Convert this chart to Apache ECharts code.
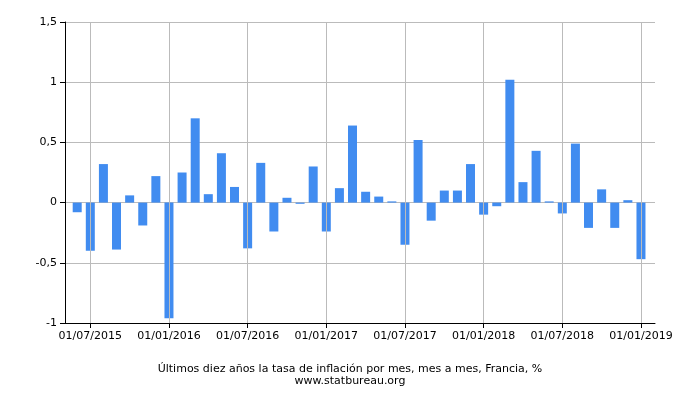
<!DOCTYPE html>
<html><head><meta charset="utf-8">
<script src="https://cdn.jsdelivr.net/npm/echarts@6/dist/echarts.min.js"></script>
<style>body{margin:0}#c{width:700px;height:400px}</style></head>
<body><div id="c"></div>
<script>
const months = ["06/2015","07/2015","08/2015","09/2015","10/2015","11/2015","12/2015","01/2016","02/2016","03/2016","04/2016","05/2016","06/2016","07/2016","08/2016","09/2016","10/2016","11/2016","12/2016","01/2017","02/2017","03/2017","04/2017","05/2017","06/2017","07/2017","08/2017","09/2017","10/2017","11/2017","12/2017","01/2018","02/2018","03/2018","04/2018","05/2018","06/2018","07/2018","08/2018","09/2018","10/2018","11/2018","12/2018","01/2019"];
const values = [-0.08,-0.4,0.32,-0.39,0.06,-0.19,0.22,-0.96,0.25,0.7,0.07,0.41,0.13,-0.38,0.33,-0.24,0.04,-0.01,0.3,-0.24,0.12,0.64,0.09,0.05,0.01,-0.35,0.52,-0.15,0.1,0.1,0.32,-0.1,-0.03,1.02,0.17,0.43,0.01,-0.09,0.49,-0.21,0.11,-0.21,0.02,-0.47];
const tickIdx = [1,7,13,19,25,31,37,43];
const tickLabels = ["01/07/2015","01/01/2016","01/07/2016","01/01/2017","01/07/2017","01/01/2018","01/07/2018","01/01/2019"];
const chart = echarts.init(document.getElementById('c'));
const font = 'DejaVu Sans';
chart.setOption({
  animation:false,
  textStyle:{fontFamily:font},
  grid:{left:65,right:45,top:22,bottom:77},
  xAxis:{type:'value',min:-0.93,max:44.07,
    axisLine:{show:true,onZero:false,lineStyle:{color:'#000'}},
    axisTick:{show:true,customValues:tickIdx,lineStyle:{color:'#000'}},
    axisLabel:{customValues:tickIdx,color:'#000',fontSize:11,fontFamily:font,
      formatter:v=>tickLabels[tickIdx.indexOf(Math.round(v))]||''},
    splitLine:{show:false}},
  yAxis:{type:'value',min:-1,max:1.5,interval:0.5,
    axisLine:{show:true,onZero:false,lineStyle:{color:'#000'}},
    axisTick:{show:true,lineStyle:{color:'#000'}},
    axisLabel:{color:'#000',fontSize:11,fontFamily:font,formatter:v=>String(v).replace('.',',')},
    splitLine:{lineStyle:{color:'#bbb'}}},
  graphic:[{type:'text',left:'center',top:364,style:{text:'Últimos diez años la tasa de inflación por mes, mes a mes, Francia, %',font:'11px DejaVu Sans',fill:'#000'}},
    {type:'text',left:'center',top:376,style:{text:'www.statbureau.org',font:'11px DejaVu Sans',fill:'#000'}}],
  series:[{type:'bar',barWidth:9,data:values.map((v,i)=>[i,v]),itemStyle:{color:'#418cf0'},
    markLine:{silent:true,symbol:'none',label:{show:false},lineStyle:{color:'#bbb',type:'solid',width:1},
      data:tickIdx.map(i=>({xAxis:i}))}}]
});
</script></body></html>
